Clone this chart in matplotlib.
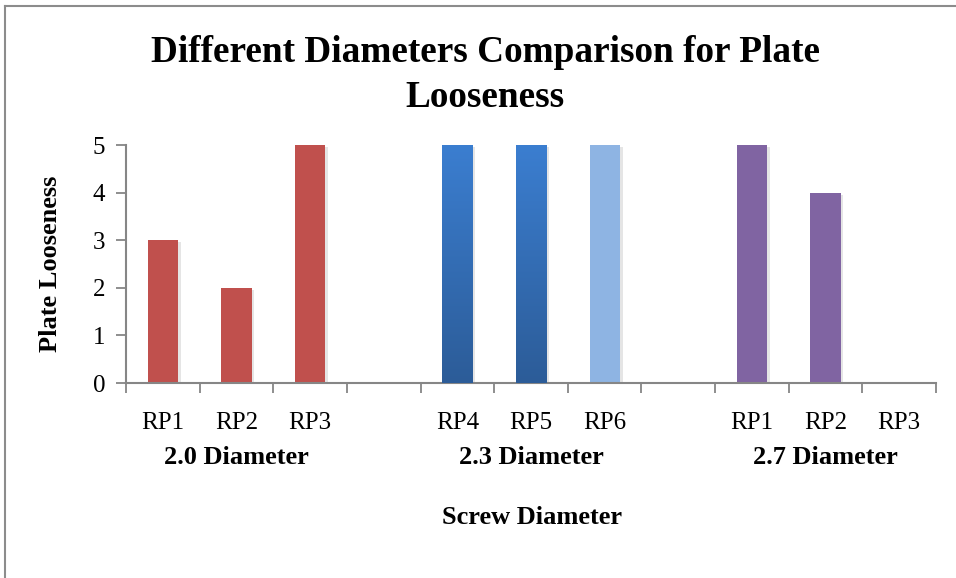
import matplotlib
matplotlib.use("Agg")
import matplotlib.pyplot as plt
import numpy as np
from matplotlib.lines import Line2D
from matplotlib.colors import LinearSegmentedColormap
import matplotlib.patheffects as pe

plt.rcParams['font.family'] = ['Liberation Serif', 'DejaVu Serif']

categories = ["RP1", "RP2", "RP3", "", "RP4", "RP5", "RP6", "", "RP1", "RP2", "RP3"]
values = [3, 2, 5, 0, 5, 5, 5, 0, 5, 4, 0]
present = [True, True, True, False, True, True, True, False, True, True, True]
groups = ["2.0 Diameter", "2.3 Diameter", "2.7 Diameter"]
group_slots = [[0, 1, 2], [4, 5, 6], [8, 9, 10]]
bar_colors = ["#C0504D", "#C0504D", "#C0504D", "none", "grad", "grad", "#8EB4E3",
              "none", "#8064A2", "#8064A2", "#8064A2"]

fig = plt.figure(figsize=(9.56, 5.78), dpi=100)
ax = fig.add_axes([126/956, 1-383/578, (936-126)/956, (383-145)/578])

x = np.arange(len(categories))
grad = LinearSegmentedColormap.from_list("g", ["#2C5C98", "#3B7ED0"])
shadow = [pe.SimplePatchShadow(offset=(2, -1.5), alpha=0.1, shadow_rgbFace='#000000'), pe.Normal()]
for i, (v, c, p) in enumerate(zip(values, bar_colors, present)):
    if not p or v == 0:
        continue
    if c == "grad":
        b = ax.bar(x[i], v, width=0.41, color="#3370B8", zorder=2, path_effects=shadow)[0]
        img = ax.imshow(np.linspace(0, 1, 256).reshape(-1, 1), cmap=grad, origin='lower',
                        extent=[x[i]-0.205, x[i]+0.205, 0, v], aspect='auto', zorder=3)
        img.set_clip_path(b)
    else:
        ax.bar(x[i], v, width=0.41, color=c, zorder=2, path_effects=shadow)

ax.set_xlim(-0.5, len(categories)-0.5)
ax.set_ylim(0, 5)
ax.set_yticks(range(0, 6))
ax.tick_params(axis='y', labelsize=18, length=7, width=1.3, color='#868686', pad=8)
ax.set_xticks(np.arange(-0.5, len(categories), 1.0))
ax.set_xticklabels([])
ax.tick_params(axis='x', which='major', length=7, width=1.3, color='#868686')
ax.set_xticks(x, minor=True)
ax.set_xticklabels(categories, minor=True, fontsize=18)
ax.tick_params(axis='x', which='minor', length=0, pad=21)

for s in ['top', 'right']:
    ax.spines[s].set_visible(False)
for s in ['left', 'bottom']:
    ax.spines[s].set_color('#868686')
    ax.spines[s].set_linewidth(1.5)

for g, slots in zip(groups, group_slots):
    cx = np.mean(slots)
    fig.text(ax.transData.transform((cx, 0))[0] / fig.bbox.width, 1-458/578, g,
             ha='center', va='center', fontsize=19, fontweight='bold')

ax.set_ylabel("Plate Looseness", fontsize=19, fontweight='bold', labelpad=22)
fig.text(532/956, 1-518/578, "Screw Diameter", ha='center', va='center', fontsize=19, fontweight='bold')
fig.text(485/956, 1-75/578, "Different Diameters Comparison for Plate\nLooseness", ha='center',
         va='center', fontsize=26.8, fontweight='bold', linespacing=1.38)

fig.add_artist(Line2D([5/956, 5/956], [0, 1-6/578], transform=fig.transFigure, color='#8c8c8c', lw=1.5))
fig.add_artist(Line2D([5/956, 1], [1-6/578, 1-6/578], transform=fig.transFigure, color='#8c8c8c', lw=1.5))

fig.savefig("out.png", dpi=100)
